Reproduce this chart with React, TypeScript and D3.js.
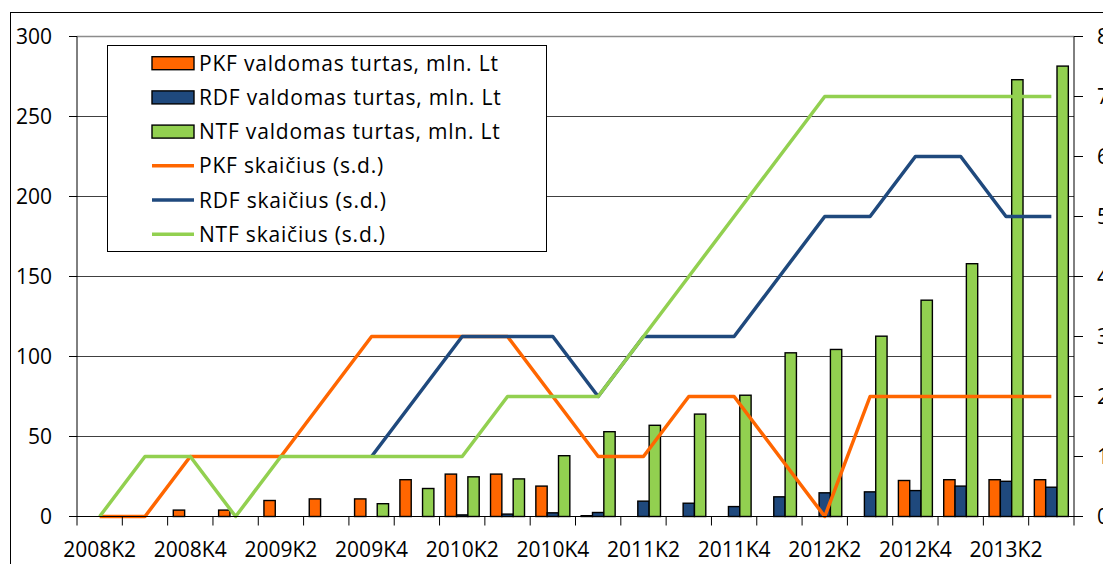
import React from "react";
import * as d3 from "d3";

const categories = [
  "2008K2", "2008K3", "2008K4",
  "2009K1", "2009K2", "2009K3", "2009K4",
  "2010K1", "2010K2", "2010K3", "2010K4",
  "2011K1", "2011K2", "2011K3", "2011K4",
  "2012K1", "2012K2", "2012K3", "2012K4",
  "2013K1", "2013K2", "2013K3",
];

// valdomas turtas, mln. Lt (left axis)
const pkfAssets = [null, null, 4, 4, 10, 11, 11, 23, 26.5, 26.5, 19, 0.5, null, null, null, null, null, null, 22.5, 23, 23, 23];
const rdfAssets = [null, null, null, null, null, null, null, null, 1, 1.5, 2.3, 2.5, 9.6, 8.3, 6.2, 12.3, 14.8, 15.4, 16.2, 19, 22, 18.3];
const ntfAssets = [null, null, null, null, null, null, 8, 17.5, 24.8, 23.5, 38, 53, 57, 64, 75.8, 102.3, 104.4, 112.7, 135.2, 158, 273, 281.5];

// skaičius (s.d.) (right axis)
const pkfCount = [0, 0, 1, 1, 1, 2, 3, 3, 3, 3, 2, 1, 1, 2, 2, 1, 0, 2, 2, 2, 2, 2];
const rdfCount = [null, null, null, null, null, null, 1, 2, 3, 3, 3, 2, 3, 3, 3, 4, 5, 5, 6, 6, 5, 5];
const ntfCount = [0, 1, 1, 0, 1, 1, 1, 1, 1, 2, 2, 2, 3, 4, 5, 6, 7, 7, 7, 7, 7, 7];

const leftTicks = [0, 50, 100, 150, 200, 250, 300];
const rightTicks = [0, 1, 2, 3, 4, 5, 6, 7, 8];

const ORANGE = "#FF6600";
const BLUE = "#1F497D";
const GREEN = "#92D050";
const FONT = "'Open Sans', Lato, sans-serif";

const barSeries = [
  { key: "PKF", label: "PKF valdomas turtas, mln. Lt", values: pkfAssets, color: ORANGE },
  { key: "RDF", label: "RDF valdomas turtas, mln. Lt", values: rdfAssets, color: BLUE },
  { key: "NTF", label: "NTF valdomas turtas, mln. Lt", values: ntfAssets, color: GREEN },
];
const lineSeries = [
  { key: "PKF", label: "PKF skaičius (s.d.)", values: pkfCount, color: ORANGE },
  { key: "RDF", label: "RDF skaičius (s.d.)", values: rdfCount, color: BLUE },
  { key: "NTF", label: "NTF skaičius (s.d.)", values: ntfCount, color: GREEN },
];

const App = () => {
  const left = 77;
  const right = 1074;
  const top = 36.5;
  const bottom = 516.5;

  const x = d3.scaleBand().domain(categories).range([left, right]).padding(0);
  const xInner = d3
    .scaleBand()
    .domain(barSeries.map((s) => s.key))
    .range([0, x.bandwidth()])
    .paddingInner(0)
    .paddingOuter(0.5);
  const yL = d3.scaleLinear().domain([0, 300]).range([bottom, top]);
  const yR = d3.scaleLinear().domain([0, 8]).range([bottom, top]);

  const line = d3
    .line<number | null>()
    .defined((d) => d !== null)
    .x((_, i) => x(categories[i])! + x.bandwidth() / 2)
    .y((d) => yR(d as number));

  const legendItems = [...barSeries.map((s) => ({ ...s, kind: "bar" })), ...lineSeries.map((s) => ({ ...s, kind: "line" }))];

  return (
    <svg
      width={1103}
      height={564}
      style={{ position: "absolute", left: 0, top: 0, background: "#fff" }}
      fontFamily={FONT}
    >
      <rect x={10.5} y={12.5} width={1110} height={570} fill="#fff" stroke="#000" strokeWidth={1} />

      {/* gridlines */}
      {leftTicks.slice(1).map((t) => (
        <line
          key={t}
          x1={left}
          x2={right}
          y1={yL(t)}
          y2={yL(t)}
          stroke={t === 300 ? "#8c8c8c" : "#404040"}
          strokeWidth={t === 300 ? 1.5 : 1}
        />
      ))}

      {/* bars */}
      {barSeries.map((s) =>
        s.values.map((v, i) =>
          v === null ? null : (
            <rect
              key={s.key + i}
              x={x(categories[i])! + xInner(s.key)!}
              y={yL(v)}
              width={xInner.bandwidth()}
              height={yL(0) - yL(v)}
              fill={s.color}
              stroke="#000"
              strokeWidth={1.4}
            />
          ),
        ),
      )}

      {/* lines */}
      {lineSeries.map((s) => (
        <path key={s.key} d={line(s.values) || ""} fill="none" stroke={s.color} strokeWidth={3.5} strokeLinejoin="round" />
      ))}

      {/* left axis */}
      <line x1={left} x2={left} y1={top} y2={bottom} stroke="#000" />
      {leftTicks.map((t) => (
        <g key={t}>
          <line x1={left - 8} x2={left} y1={yL(t)} y2={yL(t)} stroke="#000" />
          <text x={52} y={yL(t)} dy="0.35em" textAnchor="end" fontSize={21} fill="#000">
            {t}
          </text>
        </g>
      ))}

      {/* right axis */}
      <line x1={right} x2={right} y1={top} y2={bottom} stroke="#000" />
      {rightTicks.map((t) => (
        <g key={t}>
          <line x1={right} x2={right + 9} y1={yR(t)} y2={yR(t)} stroke="#000" />
          <text x={1097} y={yR(t)} dy="0.35em" textAnchor="start" fontSize={21} fill="#000">
            {t}
          </text>
        </g>
      ))}

      {/* x axis */}
      <line x1={left - 8} x2={right + 9} y1={bottom} y2={bottom} stroke="#000" />
      {categories.map((c) => (
        <line key={c} x1={x(c)!} x2={x(c)!} y1={bottom} y2={bottom + 9} stroke="#000" />
      ))}
      <line x1={right} x2={right} y1={bottom} y2={bottom + 9} stroke="#000" />
      {categories.map((c, i) =>
        i % 2 === 0 ? (
          <text key={c} x={x(c)! + x.bandwidth() / 2} y={557} textAnchor="middle" fontSize={21} fill="#000">
            {c}
          </text>
        ) : null,
      )}

      {/* legend */}
      <rect x={107.5} y={45.5} width={439} height={206} fill="#fff" stroke="#000" strokeWidth={1} />
      {legendItems.map((it, k) => {
        const base = 70.7 + k * 34.2;
        const cy = base - 7.5;
        return (
          <g key={it.kind + it.key}>
            {it.kind === "bar" ? (
              <rect x={152} y={cy - 6.5} width={42} height={13} fill={it.color} stroke="#000" strokeWidth={1.4} />
            ) : (
              <line x1={152} x2={194} y1={cy} y2={cy} stroke={it.color} strokeWidth={3.5} />
            )}
            <text x={199} y={base} fontSize={21} letterSpacing={0.8} fill="#000">
              {it.label}
            </text>
          </g>
        );
      })}
    </svg>
  );
};

export default App;
